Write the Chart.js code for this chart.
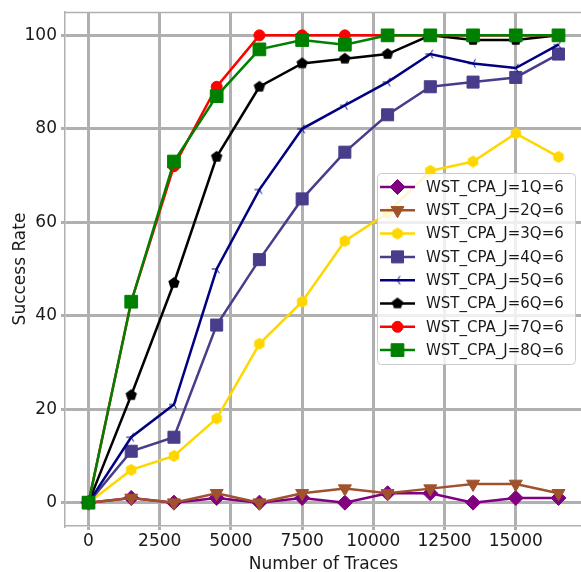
<!DOCTYPE html>
<html>
<head>
<meta charset="utf-8">
<script src="https://cdn.jsdelivr.net/npm/chart.js@4/dist/chart.umd.min.js"></script>
<style>
    html, body { margin: 0; padding: 0; background: #fff; overflow: hidden; }
    #wrap { width: 600px; height: 572px; }
</style>
</head>
<body>
<div id="wrap"><canvas id="chart" width="600" height="572"></canvas></div>
<script>
// traces on the x axis
const traces = [0, 1500, 3000, 4500, 6000, 7500, 9000, 10500, 12000, 13500, 15000, 16500];
const xTicks = [0, 2500, 5000, 7500, 10000, 12500, 15000];
const yTicks = [0, 20, 40, 60, 80, 100];

// success rate per J
const rateJ1 = [0, 1, 0, 1, 0, 1, 0, 2, 2, 0, 1, 1];
const rateJ2 = [0, 1, 0, 2, 0, 2, 3, 2, 3, 4, 4, 2];
const rateJ3 = [0, 7, 10, 18, 34, 43, 56, 62, 71, 73, 79, 74];
const rateJ4 = [0, 11, 14, 38, 52, 65, 75, 83, 89, 90, 91, 96];
const rateJ5 = [0, 14, 21, 50, 67, 80, 85, 90, 96, 94, 93, 98];
const rateJ6 = [0, 23, 47, 74, 89, 94, 95, 96, 100, 99, 99, 100];
const rateJ7 = [0, 43, 72, 89, 100, 100, 100, 100, 100, 100, 100, 100];
const rateJ8 = [0, 43, 73, 87, 97, 99, 98, 100, 100, 100, 100, 100];

const labels = ['WST_CPA_J=1Q=6', 'WST_CPA_J=2Q=6', 'WST_CPA_J=3Q=6', 'WST_CPA_J=4Q=6',
                'WST_CPA_J=5Q=6', 'WST_CPA_J=6Q=6', 'WST_CPA_J=7Q=6', 'WST_CPA_J=8Q=6'];
const colors = ['#800080', '#a0522d', '#ffd700', '#483d8b', '#000080', '#000000', '#ff0000', '#008000'];

// marker images for shapes chart.js doesn't have
function polyMarker(sides, r, fill) {
    const c = document.createElement('canvas');
    const s = Math.ceil(r * 2 + 2);
    c.width = c.height = s;
    const g = c.getContext('2d');
    g.beginPath();
    for (let k = 0; k < sides; k++) {
        const a = -Math.PI / 2 + k * 2 * Math.PI / sides;
        g.lineTo(s / 2 + r * Math.cos(a), s / 2 + r * Math.sin(a));
    }
    g.closePath();
    g.fillStyle = fill;
    g.fill();
    return c;
}
function triLeft(r, color) {
    const c = document.createElement('canvas');
    const s = Math.ceil(r * 2 + 2);
    c.width = c.height = s;
    const g = c.getContext('2d');
    g.strokeStyle = color;
    g.lineWidth = 1;
    [Math.PI, Math.PI / 3, -Math.PI / 3].forEach(a => {
        g.beginPath();
        g.moveTo(s / 2, s / 2);
        g.lineTo(s / 2 + r * Math.cos(a), s / 2 - r * Math.sin(a));
        g.stroke();
    });
    return c;
}

const styles = [
    { pointStyle: 'rectRot', radius: 7.5 },
    { pointStyle: 'triangle', radius: 7.5, rotation: 180 },
    { pointStyle: polyMarker(6, 6, colors[2]), radius: 6 },
    { pointStyle: 'rect', radius: 8.5 },
    { pointStyle: triLeft(5, colors[4]), radius: 5 },
    { pointStyle: polyMarker(5, 6, colors[5]), radius: 6 },
    { pointStyle: 'circle', radius: 5.5 },
    { pointStyle: 'rect', radius: 9 }
];

const series = [rateJ1, rateJ2, rateJ3, rateJ4, rateJ5, rateJ6, rateJ7, rateJ8];
const datasets = series.map((vals, i) => ({
    label: labels[i],
    data: vals.map((v, k) => ({ x: traces[k], y: v })),
    borderColor: colors[i],
    backgroundColor: colors[i],
    borderWidth: 2.5,
    pointStyle: styles[i].pointStyle,
    pointRadius: styles[i].radius,
    pointRotation: styles[i].rotation || 0,
    pointBackgroundColor: colors[i],
    pointBorderColor: colors[i],
    pointBorderWidth: 1,
    tension: 0,
    order: 7 - i
}));

const textColor = '#1a1a1a';
const gridColor = '#b0b0b0';
const tickFont = { family: 'DejaVu Sans', size: 17 };

// frame on top + legend inside the plot
const framePlugin = {
    id: 'frameAndLegend',
    afterDatasetsDraw(chart) {
        const { ctx, chartArea } = chart;
        ctx.save();
        ctx.strokeStyle = gridColor;
        ctx.lineWidth = 1.5;
        ctx.beginPath();
        ctx.moveTo(chartArea.left, chartArea.top + 0.5);
        ctx.lineTo(chartArea.right, chartArea.top + 0.5);
        ctx.stroke();

        // legend box
        const bx = 377, by = 173, bw = 198, bh = 191;
        ctx.beginPath();
        ctx.roundRect(bx + 0.5, by + 0.5, bw, bh, 4);
        ctx.fillStyle = 'rgba(255,255,255,0.8)';
        ctx.fill();
        ctx.strokeStyle = '#cccccc';
        ctx.lineWidth = 1;
        ctx.stroke();

        ctx.font = '15px "DejaVu Sans"';
        ctx.textBaseline = 'middle';
        ctx.textAlign = 'left';
        datasets.forEach((ds, i) => {
            const y = 187 + i * 23.3;
            ctx.strokeStyle = ds.borderColor;
            ctx.lineWidth = 2.5;
            ctx.beginPath();
            ctx.moveTo(380, y);
            ctx.lineTo(415, y);
            ctx.stroke();
            ctx.fillStyle = ds.borderColor;
            ctx.lineWidth = 1;
            Chart.helpers.drawPoint(ctx, {
                pointStyle: ds.pointStyle,
                radius: ds.pointRadius,
                rotation: ds.pointRotation,
                borderWidth: 1
            }, 397.5, y);
            ctx.fillStyle = textColor;
            ctx.fillText(ds.label, 426, y + 1);
        });
        ctx.restore();
    }
};

new Chart(document.getElementById('chart'), {
    type: 'line',
    data: { datasets },
    plugins: [framePlugin],
    options: {
        responsive: false,
        animation: false,
        layout: { padding: { left: 0, top: 12, right: 18, bottom: 0 } },
        plugins: { legend: { display: false }, tooltip: { enabled: false } },
        scales: {
            x: {
                type: 'linear',
                min: -825,
                max: 17325,
                afterBuildTicks: s => { s.ticks = xTicks.map(v => ({ value: v })); },
                afterFit: s => { s.height = 46; },
                grid: { color: gridColor, lineWidth: 3, tickLength: 4 },
                border: { color: gridColor, width: 1.5 },
                ticks: { color: textColor, font: tickFont, padding: 1, maxRotation: 0,
                         callback: v => String(v) },
                title: { display: true, text: 'Number of Traces', color: textColor,
                         font: tickFont, padding: { top: 0, bottom: -3 } }
            },
            y: {
                type: 'linear',
                min: -5,
                max: 105,
                afterBuildTicks: s => { s.ticks = yTicks.map(v => ({ value: v })); },
                afterFit: s => { s.width = 65; },
                grid: { color: gridColor, lineWidth: 3, tickLength: 4 },
                border: { color: gridColor, width: 1.5 },
                ticks: { color: textColor, font: { family: 'DejaVu Sans', size: 17, lineHeight: 0.8 },
                         padding: 4, callback: v => String(v) },
                title: { display: true, text: 'Success Rate', color: textColor,
                         font: tickFont, padding: { top: 10, bottom: 0 } }
            }
        }
    }
});
</script>
</body>
</html>
